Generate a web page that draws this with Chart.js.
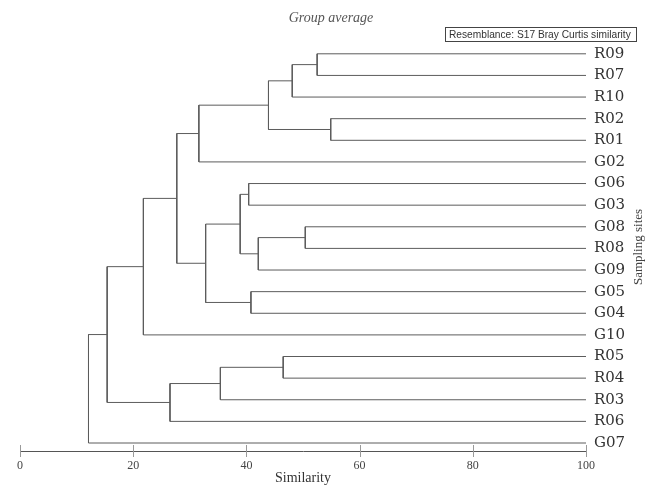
<!DOCTYPE html>
<html>
<head>
<meta charset="utf-8">
<script src="https://cdn.jsdelivr.net/npm/chart.js@4"></script>
<style>
  html, body { margin: 0; padding: 0; background: #fff; }
  #chart { display: block; }
</style>
</head>
<body>
<canvas id="chart" width="650" height="487"></canvas>
<script>
// Leaves, top to bottom
const leaves = ['R09', 'R07', 'R10', 'R02', 'R01', 'G02', 'G06', 'G03', 'G08', 'R08',
                'G09', 'G05', 'G04', 'G10', 'R05', 'R04', 'R03', 'R06', 'G07'];

// Merges (mN = result of merge N), with similarity level of each join
const mergeA = ['R09', 'm0', 'R02', 'm1', 'm3', 'G06', 'G08', 'm6', 'm5', 'G05',
                'm8', 'm4', 'm11', 'R05', 'm13', 'm14', 'm12', 'm16'];
const mergeB = ['R07', 'R10', 'R01', 'm2', 'G02', 'G03', 'R08', 'G09', 'm7', 'G04',
                'm9', 'm10', 'G10', 'R04', 'R03', 'R06', 'm15', 'G07'];
const mergeSimilarity = [52.5, 48.1, 54.9, 43.9, 31.6, 40.4, 50.4, 42.1, 38.9, 40.8,
                         32.8, 27.7, 21.8, 46.5, 35.4, 26.5, 15.4, 12.1];

const xTicks = [0, 20, 40, 60, 80, 100];

// Build node positions: leaves sit at similarity 100
const nodes = {};
leaves.forEach((name, i) => { nodes[name] = { level: 100, pos: i }; });

const datasets = [];
mergeA.forEach((a, i) => {
  const na = nodes[a];
  const nb = nodes[mergeB[i]];
  const lvl = mergeSimilarity[i];
  nodes['m' + i] = { level: lvl, pos: (na.pos + nb.pos) / 2 };
  datasets.push({
    data: [
      { x: na.level, y: na.pos },
      { x: lvl, y: na.pos },
      { x: lvl, y: nb.pos },
      { x: nb.level, y: nb.pos }
    ],
    showLine: true,
    borderColor: '#5c5c5c',
    borderWidth: 1,
    pointRadius: 0,
    fill: false,
    tension: 0
  });
});

// Extra drawing: tick marks across the axis, title, resemblance box, y title
const decorations = {
  id: 'decorations',
  afterDraw(chart) {
    const ctx = chart.ctx;
    const xs = chart.scales.x;
    const area = chart.chartArea;
    ctx.save();
    ctx.strokeStyle = '#9a9a9a';
    ctx.lineWidth = 1;
    xTicks.forEach(v => {
      const px = Math.round(xs.getPixelForValue(v)) + 0.5;
      ctx.beginPath();
      ctx.moveTo(px, area.bottom - 6);
      ctx.lineTo(px, area.bottom + 6);
      ctx.stroke();
    });

    // title
    ctx.fillStyle = '#555';
    ctx.font = 'italic 14px "Liberation Serif", serif';
    ctx.textAlign = 'center';
    ctx.textBaseline = 'middle';
    ctx.fillText('Group average', 331, 18);

    // resemblance box
    ctx.strokeStyle = '#444';
    ctx.strokeRect(445.5, 27.5, 191, 14);
    ctx.fillStyle = '#333';
    ctx.font = '10.2px "Liberation Sans", Arial, sans-serif';
    ctx.textAlign = 'left';
    ctx.fillText('Resemblance: S17 Bray Curtis similarity', 449, 35);

    // y axis title, reading bottom to top
    ctx.translate(639, (area.top + area.bottom) / 2);
    ctx.rotate(-Math.PI / 2);
    ctx.fillStyle = '#444';
    ctx.font = '13px "Liberation Serif", serif';
    ctx.textAlign = 'center';
    ctx.fillText('Sampling sites', 0, 0);
    ctx.restore();
  }
};

new Chart(document.getElementById('chart'), {
  type: 'scatter',
  data: { datasets },
  options: {
    responsive: false,
    animation: false,
    layout: { padding: { left: 20, top: 43, right: 0, bottom: 0 } },
    plugins: {
      legend: { display: false },
      tooltip: { enabled: false }
    },
    scales: {
      x: {
        type: 'linear',
        min: 0,
        max: 100,
        afterBuildTicks: s => { s.ticks = xTicks.map(v => ({ value: v })); },
        ticks: {
          color: '#444',
          font: { family: '"Liberation Serif", serif', size: 12 },
          padding: 8,
          maxRotation: 0
        },
        grid: { display: false, drawTicks: false },
        border: { display: true, color: '#555', width: 1 },
        title: {
          display: true,
          text: 'Similarity',
          color: '#333',
          font: { family: '"Liberation Serif", serif', size: 14 },
          padding: { top: 0, bottom: 0 }
        },
        afterFit: s => { s.height = 36; }
      },
      y: {
        type: 'linear',
        position: 'right',
        reverse: true,
        min: -0.5,
        max: 18.37,
        afterBuildTicks: s => { s.ticks = leaves.map((_, i) => ({ value: i })); },
        ticks: {
          autoSkip: false,
          color: '#333',
          font: { family: '"DejaVu Serif", serif', size: 15 },
          padding: 8,
          callback: v => leaves[v]
        },
        grid: { display: false, drawTicks: false },
        border: { display: false },
        afterFit: s => { s.width = 64; }
      }
    }
  },
  plugins: [decorations]
});
</script>
</body>
</html>
